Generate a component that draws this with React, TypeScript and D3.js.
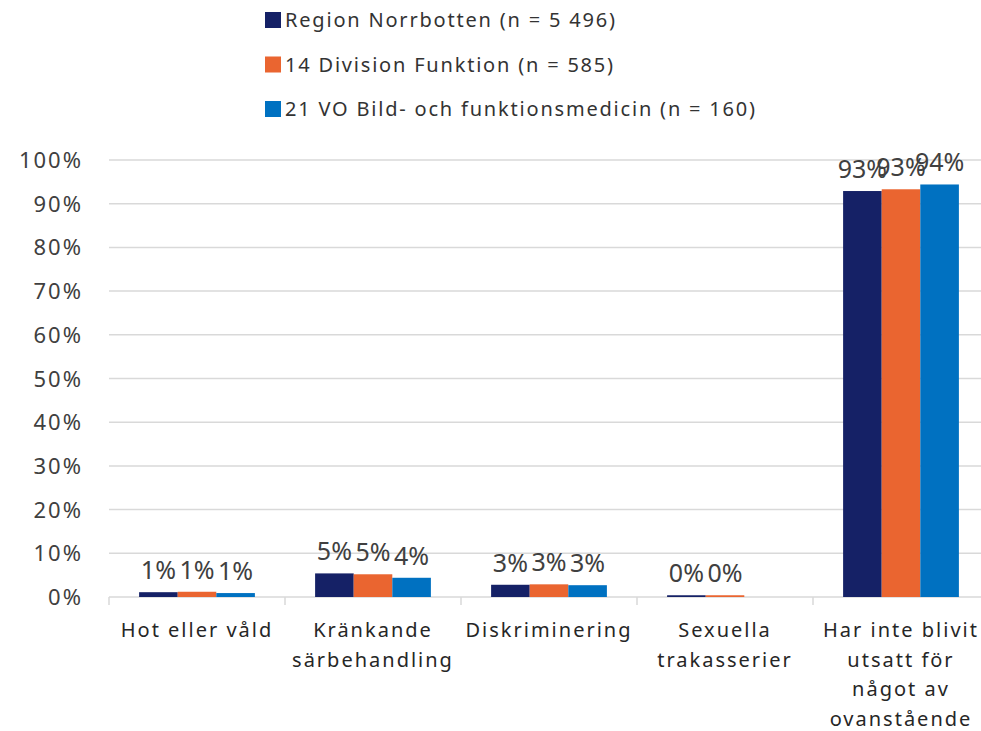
import React, { useEffect } from "react";
import * as d3 from "d3";

const categories = [
  ["Hot eller våld"],
  ["Kränkande", "särbehandling"],
  ["Diskriminering"],
  ["Sexuella", "trakasserier"],
  ["Har inte blivit", "utsatt för", "något av", "ovanstående"],
];
const seriesNames = [
  "Region Norrbotten (n = 5 496)",
  "14 Division Funktion (n = 585)",
  "21 VO Bild- och funktionsmedicin (n = 160)",
];
const seriesColors = ["#152166", "#ea6530", "#0071c1"];
const regionValues = [1.1, 5.4, 2.8, 0.4, 92.9];
const divisionValues = [1.2, 5.2, 2.9, 0.4, 93.3];
const voValues = [0.9, 4.4, 2.7, 0, 94.4];
const labelsShown = [
  [true, true, true, true, true],
  [true, true, true, true, true],
  [true, true, true, false, true],
];
const yTicks = [0, 10, 20, 30, 40, 50, 60, 70, 80, 90, 100];

const W = 981;
const H = 731;
const FONT = "'Noto Sans', 'Open Sans', sans-serif";

export default function App() {
  useEffect(() => {
    document.body.style.margin = "0";
  }, []);

  const left = 109;
  const right = 989;
  const top = 160;
  const bottom = 597;

  const x = d3.scaleBand<number>().domain(d3.range(categories.length)).range([left, right]);
  const inner = d3
    .scaleBand<number>()
    .domain([0, 1, 2])
    .range([0, x.bandwidth()])
    .paddingOuter(0.78)
    .paddingInner(0);
  const y = d3.scaleLinear().domain([0, 100]).range([bottom, top]);
  const all = [regionValues, divisionValues, voValues];

  return (
    <svg width={W} height={H} style={{ display: "block", background: "#fff" }} fontFamily={FONT}>
      {/* legend */}
      {seriesNames.map((name, i) => (
        <g key={name} transform={`translate(265, ${12 + i * 44.5})`}>
          <rect width={16} height={16} fill={seriesColors[i]} />
          <text x={20} y={15} fontSize={20} fill="#333" letterSpacing={1.8}>
            {name}
          </text>
        </g>
      ))}
      {/* gridlines */}
      {yTicks.map((t) => (
        <g key={t}>
          <line x1={left} x2={right} y1={y(t)} y2={y(t)} stroke="#d9d9d9" strokeWidth={1.5} />
          <text x={83} y={y(t) + 8} textAnchor="end" fontSize={22} fill="#404040" letterSpacing={2}>
            {t}%
          </text>
        </g>
      ))}
      {/* category ticks */}
      {d3.range(categories.length + 1).map((i) => {
        const xx = i < categories.length ? x(i)! : right;
        return <line key={i} x1={xx} x2={xx} y1={bottom} y2={bottom + 8} stroke="#d9d9d9" strokeWidth={1.5} />;
      })}
      {/* bars */}
      {all.map((vals, s) =>
        vals.map((v, c) => (
          <rect
            key={`${s}-${c}`}
            x={x(c)! + inner(s)!}
            y={y(v)}
            width={inner.bandwidth()}
            height={bottom - y(v)}
            fill={seriesColors[s]}
          />
        ))
      )}
      {/* data labels */}
      {all.map((vals, s) =>
        vals.map((v, c) =>
          labelsShown[s][c] ? (
            <text
              key={`l${s}-${c}`}
              x={x(c)! + inner(s)! + inner.bandwidth() / 2}
              y={y(v) - 13}
              textAnchor="middle"
              fontSize={25}
              fill="#404040"
            >
              {Math.round(v)}%
            </text>
          ) : null
        )
      )}
      {/* category labels */}
      {categories.map((lines, c) => (
        <text
          key={c}
          x={x(c)! + x.bandwidth() / 2}
          textAnchor="middle"
          fontSize={20}
          fill="#262626"
          letterSpacing={2}
        >
          {lines.map((ln, k) => (
            <tspan key={k} x={x(c)! + x.bandwidth() / 2} y={637 + k * 29.5}>
              {ln}
            </tspan>
          ))}
        </text>
      ))}
    </svg>
  );
}
